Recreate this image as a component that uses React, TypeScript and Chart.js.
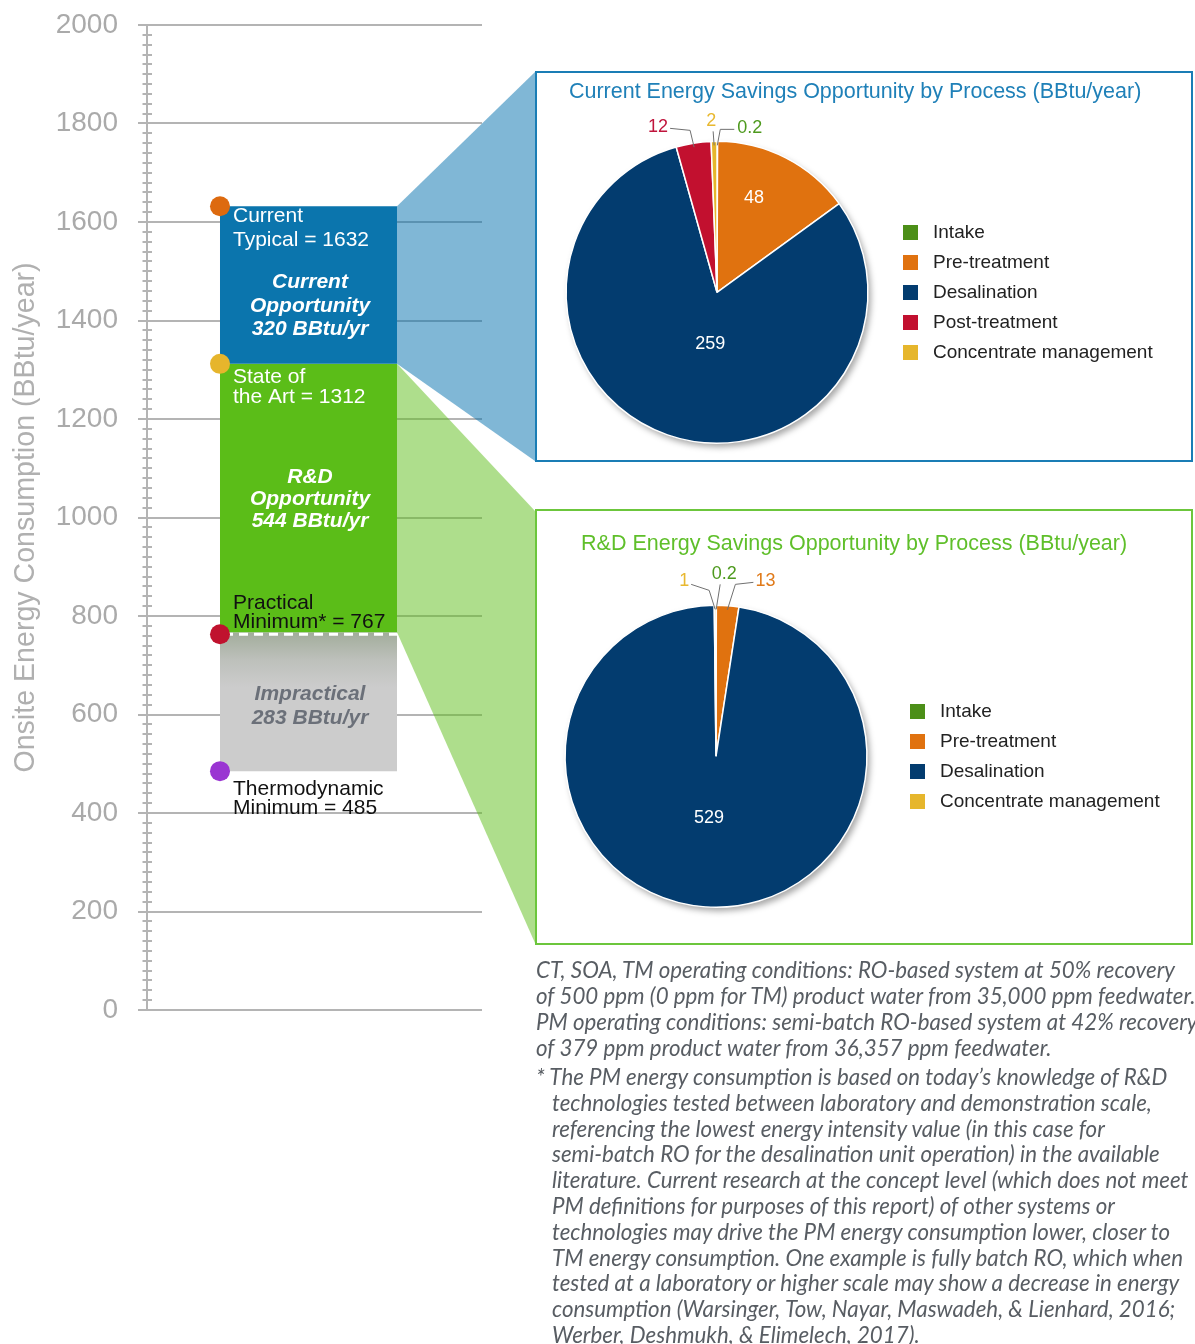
import React, { useEffect, useLayoutEffect, useRef, useState } from 'react';
import { Chart, registerables } from 'chart.js';

Chart.register(...registerables);

// ---------------- data ----------------
const levelNames = ['Current Typical', 'State of the Art', 'Practical Minimum*', 'Thermodynamic Minimum'];
const levelValues = [1632, 1312, 767, 485];
const bandNames = ['Current Opportunity', 'R&D Opportunity', 'Impractical'];
const bandSavings = [320, 544, 283];
const yMin = 0;
const yMax = 2000;
const yStep = 200;
const yMinorStep = 20;

const currentProcesses = ['Intake', 'Pre-treatment', 'Desalination', 'Post-treatment', 'Concentrate management'];
const currentSavings = [0.2, 48, 259, 12, 2];
const rdProcesses = ['Intake', 'Pre-treatment', 'Desalination', 'Concentrate management'];
const rdSavings = [0.2, 13, 529, 1];

const footnoteP1 = [
  'CT, SOA, TM operating conditions: RO-based system at 50% recovery',
  'of 500 ppm (0 ppm for TM) product water from 35,000 ppm feedwater.',
  'PM operating conditions: semi-batch RO-based system at 42% recovery',
  'of 379 ppm product water from 36,357 ppm feedwater.',
];
const footnoteP2 = [
  '* The PM energy consumption is based on today\u2019s knowledge of R&D',
  'technologies tested between laboratory and demonstration scale,',
  'referencing the lowest energy intensity value (in this case for',
  'semi-batch RO for the desalination unit operation) in the available',
  'literature. Current research at the concept level (which does not meet',
  'PM definitions for purposes of this report) of other systems or',
  'technologies may drive the PM energy consumption lower, closer to',
  'TM energy consumption. One example is fully batch RO, which when',
  'tested at a laboratory or higher scale may show a decrease in energy',
  'consumption (Warsinger, Tow, Nayar, Maswadeh, & Lienhard, 2016;',
  'Werber, Deshmukh, & Elimelech, 2017).',
];

// ---------------- styles ----------------
const FONT = "'Liberation Sans', Arial, Helvetica, sans-serif";
const GRID = '#b4b4b4';
const bandColors = ['#0b75ad', '#5bbd18', '#cccccc'];
const dotColors = ['#dd6a0f', '#e6b52c', '#c0122e', '#9a35d2'];
const processColor: Record<string, string> = {
  'Intake': '#4c8f18',
  'Pre-treatment': '#e0720f',
  'Desalination': '#033c6f',
  'Post-treatment': '#c2102f',
  'Concentrate management': '#e6b62c',
};
const processTextColor: Record<string, string> = {
  'Intake': '#4e9a1e',
  'Pre-treatment': '#e07a1a',
  'Desalination': '#ffffff',
  'Post-treatment': '#c0143c',
  'Concentrate management': '#e8b830',
};

const BOX1 = { left: 535, top: 71, width: 658, height: 391, color: '#1a7db5' };
const BOX2 = { left: 535, top: 509, width: 658, height: 436, color: '#6cc63c' };

// ---------------- main chart plugins ----------------
const trapezoidPlugin = {
  id: 'trapezoids',
  beforeDatasetsDraw(chart: any) {
    const bar = chart.getDatasetMeta(0).data[0];
    if (!bar) return;
    const right = bar.x + bar.width / 2;
    const y = chart.scales.y;
    const ctx = chart.ctx;
    ctx.save();
    ctx.fillStyle = 'rgba(1,111,173,0.5)';
    ctx.beginPath();
    ctx.moveTo(right, y.getPixelForValue(levelValues[0]));
    ctx.lineTo(BOX1.left, BOX1.top + 1);
    ctx.lineTo(BOX1.left, BOX1.top + BOX1.height - 1);
    ctx.lineTo(right, y.getPixelForValue(levelValues[1]));
    ctx.closePath();
    ctx.fill();
    ctx.fillStyle = 'rgba(93,189,25,0.5)';
    ctx.beginPath();
    ctx.moveTo(right, y.getPixelForValue(levelValues[1]));
    ctx.lineTo(BOX2.left, BOX2.top + 2);
    ctx.lineTo(BOX2.left, BOX2.top + BOX2.height - 2);
    ctx.lineTo(right, y.getPixelForValue(levelValues[2]));
    ctx.closePath();
    ctx.fill();
    ctx.restore();
  },
};

const levelTextLines = [
  ['Current', `Typical = ${levelValues[0]}`],
  ['State of', `the Art = ${levelValues[1]}`],
  ['Practical', `Minimum* = ${levelValues[2]}`],
  ['Thermodynamic', `Minimum = ${levelValues[3]}`],
];
const levelTextOffsets = [[10, 34], [13, 33], [-29, -10], [18, 37]];
const levelTextColors = ['#ffffff', '#ffffff', '#111111', '#111111'];
const bandTextLines = [
  ['Current', 'Opportunity', `${bandSavings[0]} BBtu/yr`],
  ['R&D', 'Opportunity', `${bandSavings[1]} BBtu/yr`],
  ['Impractical', `${bandSavings[2]} BBtu/yr`],
];
const bandTextOffsets = [[76, 100, 123], [113, 135, 157], [62, 86]];
const bandTextColors = ['#ffffff', '#ffffff', '#6b7079'];

const overlayPlugin = {
  id: 'overlay',
  afterDatasetsDraw(chart: any) {
    const bar = chart.getDatasetMeta(0).data[0];
    if (!bar) return;
    const left = bar.x - bar.width / 2;
    const right = bar.x + bar.width / 2;
    const y = chart.scales.y;
    const ctx = chart.ctx;
    ctx.save();

    // minor ticks on the axis
    ctx.strokeStyle = GRID;
    ctx.lineWidth = 2;
    const axisX = chart.chartArea.left;
    for (let v = yMin; v <= yMax; v += yMinorStep) {
      if (v % yStep === 0) continue;
      const py = Math.round(y.getPixelForValue(v));
      ctx.beginPath();
      ctx.moveTo(axisX - 4.5, py);
      ctx.lineTo(axisX + 5, py);
      ctx.stroke();
    }

    // dashed line at practical minimum
    const pm = y.getPixelForValue(levelValues[2]) + 2;
    ctx.strokeStyle = '#ffffff';
    ctx.lineWidth = 3;
    ctx.setLineDash([9, 6]);
    ctx.beginPath();
    ctx.moveTo(left + 4, pm);
    ctx.lineTo(right, pm);
    ctx.stroke();
    ctx.setLineDash([]);

    // level dots
    levelValues.forEach((v, i) => {
      ctx.fillStyle = dotColors[i];
      ctx.beginPath();
      ctx.arc(left, y.getPixelForValue(v) + (i === 2 ? 2 : 0), 10, 0, Math.PI * 2);
      ctx.fill();
    });

    // level texts
    ctx.textBaseline = 'middle';
    ctx.textAlign = 'left';
    ctx.font = `21px ${FONT}`;
    levelTextLines.forEach((lines, i) => {
      const py = y.getPixelForValue(levelValues[i]);
      ctx.fillStyle = levelTextColors[i];
      lines.forEach((t, j) => ctx.fillText(t, left + 13, py + levelTextOffsets[i][j]));
    });

    // band texts
    ctx.textAlign = 'center';
    ctx.font = `italic bold 21px ${FONT}`;
    bandTextLines.forEach((lines, i) => {
      const py = y.getPixelForValue(levelValues[i]);
      ctx.fillStyle = bandTextColors[i];
      lines.forEach((t, j) => ctx.fillText(t, bar.x + 1.5, py + bandTextOffsets[i][j]));
    });
    ctx.restore();
  },
};

function MainChart() {
  const ref = useRef<HTMLCanvasElement>(null);
  useEffect(() => {
    const impracticalFill = (c: any) => {
      const chart = c.chart;
      if (!chart.chartArea) return bandColors[2];
      const top = chart.scales.y.getPixelForValue(levelValues[2]);
      const g = chart.ctx.createLinearGradient(0, top, 0, top + 55);
      g.addColorStop(0, '#a2ad9b');
      g.addColorStop(0.5, '#bdc0bb');
      g.addColorStop(1, bandColors[2]);
      return g;
    };
    const chart = new Chart(ref.current as HTMLCanvasElement, {
      type: 'bar',
      data: {
        labels: ['Onsite energy consumption'],
        datasets: bandNames.map((name, i) => ({
          label: name,
          data: [[levelValues[i + 1], levelValues[i]]] as any,
          backgroundColor: i === 2 ? impracticalFill : bandColors[i],
          borderWidth: 0,
          grouped: false,
          barPercentage: 0.548,
          categoryPercentage: 1,
        })),
      },
      options: {
        responsive: false,
        animation: false,
        layout: { padding: { left: 0, right: 1195 - 482, top: 25, bottom: 1344 - 1010 } },
        plugins: { legend: { display: false }, tooltip: { enabled: false }, title: { display: false } },
        scales: {
          x: { display: false },
          y: {
            position: 'left',
            min: yMin,
            max: yMax,
            ticks: {
              stepSize: yStep,
              color: '#aaaaaa',
              font: { size: 28, family: FONT },
              padding: 20,
              callback: (v: any) => String(v),
            },
            grid: { color: GRID, lineWidth: 2, tickLength: 9, drawTicks: true },
            border: { display: true, color: GRID, width: 2 },
            title: {
              display: true,
              text: 'Onsite Energy Consumption (BBtu/year)',
              color: '#b0b0b0',
              font: { size: 28.6, family: FONT },
              padding: { top: 8.5, bottom: 0 },
            },
            afterFit: (s: any) => {
              s.width = 147;
              s.paddingTop = 0;
              s.paddingBottom = 0;
            },
          },
          y2: {
            position: 'right',
            min: yMin,
            max: yMax,
            ticks: { stepSize: yStep, display: false },
            grid: { color: GRID, lineWidth: 2, tickLength: 12, drawTicks: true, drawOnChartArea: false },
            border: { display: false },
            afterFit: (s: any) => {
              s.width = 12;
              s.paddingTop = 0;
              s.paddingBottom = 0;
            },
          },
        },
      } as any,
      plugins: [trapezoidPlugin, overlayPlugin],
    });
    return () => chart.destroy();
  }, []);
  return (
    <canvas
      ref={ref}
      width={1195}
      height={1344}
      style={{ position: 'absolute', left: 0, top: 0, width: 1195, height: 1344 }}
    />
  );
}

// ---------------- pie charts ----------------
const pieShadowPlugin = {
  id: 'pieShadow',
  beforeDatasetsDraw(chart: any) {
    const arc = chart.getDatasetMeta(0).data[0];
    if (!arc) return;
    const ctx = chart.ctx;
    ctx.save();
    ctx.shadowColor = 'rgba(0,0,0,0.35)';
    ctx.shadowBlur = 6;
    ctx.shadowOffsetX = 3;
    ctx.shadowOffsetY = 4;
    ctx.fillStyle = '#ffffff';
    ctx.beginPath();
    ctx.arc(arc.x, arc.y, arc.outerRadius, 0, Math.PI * 2);
    ctx.fill();
    ctx.restore();
  },
};

const pieLabelPlugin = {
  id: 'pieLabels',
  afterDatasetsDraw(chart: any, _args: any, opts: any) {
    const ctx = chart.ctx;
    const meta = chart.getDatasetMeta(0);
    const values = chart.data.datasets[0].data as number[];
    const labels = chart.data.labels as string[];
    ctx.save();
    ctx.font = `18px ${FONT}`;
    ctx.textBaseline = 'middle';
    (opts.inside || []).forEach((cfg: any) => {
      const arc = meta.data[cfg.index];
      const mid = (arc.startAngle + arc.endAngle) / 2;
      const r = arc.outerRadius * cfg.rf;
      ctx.fillStyle = '#ffffff';
      ctx.textAlign = 'center';
      ctx.fillText(String(values[cfg.index]), arc.x + Math.cos(mid) * r + cfg.dx, arc.y + Math.sin(mid) * r + cfg.dy);
    });
    (opts.callouts || []).forEach((cfg: any) => {
      const arc = meta.data[cfg.index];
      const mid = (arc.startAngle + arc.endAngle) / 2;
      const rr = arc.outerRadius - 4;
      const px = arc.x + Math.cos(mid) * rr;
      const py = arc.y + Math.sin(mid) * rr;
      const top = arc.y - arc.outerRadius;
      const ex = px + cfg.ex;
      const ey = top + cfg.ey;
      const hx = ex + cfg.hx;
      const hy = ey + cfg.hy;
      ctx.strokeStyle = '#707070';
      ctx.lineWidth = 1;
      ctx.beginPath();
      ctx.moveTo(px, py);
      ctx.lineTo(ex, ey);
      ctx.lineTo(hx, hy);
      ctx.stroke();
      ctx.fillStyle = processTextColor[labels[cfg.index]];
      ctx.textAlign = cfg.align;
      ctx.fillText(String(values[cfg.index]), hx + cfg.tx, hy + cfg.ty);
    });
    ctx.restore();
  },
};

function makeSwatch(color: string) {
  const c = document.createElement('canvas');
  c.width = 15;
  c.height = 15;
  const g = c.getContext('2d') as CanvasRenderingContext2D;
  g.fillStyle = color;
  g.fillRect(0, 0, 15, 15);
  return c;
}

type PieProps = {
  labels: string[];
  values: number[];
  title: string;
  titleColor: string;
  width: number;
  height: number;
  titlePadding: { top: number; bottom: number };
  layoutPadding: { left: number; right: number; top: number; bottom: number };
  inside: any[];
  callouts: any[];
};

function PieChart(p: PieProps) {
  const ref = useRef<HTMLCanvasElement>(null);
  useEffect(() => {
    const colors = p.labels.map((l) => processColor[l]);
    const chart = new Chart(ref.current as HTMLCanvasElement, {
      type: 'pie',
      data: {
        labels: p.labels,
        datasets: [{ data: p.values, backgroundColor: colors, borderColor: '#ffffff', borderWidth: 1.5 }],
      },
      options: {
        responsive: false,
        animation: false,
        layout: { padding: p.layoutPadding },
        plugins: {
          tooltip: { enabled: false },
          title: {
            display: true,
            text: p.title,
            color: p.titleColor,
            font: { size: 21.5, family: FONT, weight: 'normal' },
            padding: p.titlePadding,
          },
          legend: {
            position: 'right',
            align: 'center',
            fullSize: false,
            labels: {
              usePointStyle: true,
              pointStyleWidth: 26,
              boxHeight: 15,
              padding: 11,
              color: '#222222',
              font: { size: 19, family: FONT },
              generateLabels: (ch: any) =>
                (ch.data.labels as string[]).map((label, i) => ({
                  text: label,
                  fillStyle: colors[i],
                  strokeStyle: colors[i],
                  lineWidth: 0,
                  pointStyle: makeSwatch(colors[i]),
                  hidden: false,
                  index: i,
                  fontColor: '#222222',
                })),
            },
          },
          pieLabels: { inside: p.inside, callouts: p.callouts },
        },
      } as any,
      plugins: [pieShadowPlugin, pieLabelPlugin],
    });
    return () => chart.destroy();
  }, []);
  return <canvas ref={ref} width={p.width} height={p.height} style={{ display: 'block', width: p.width, height: p.height }} />;
}

function Box(props: { box: any; children: any }) {
  const b = props.box;
  return (
    <div
      style={{
        position: 'absolute',
        left: b.left,
        top: b.top,
        width: b.width,
        height: b.height,
        border: `2px solid ${b.color}`,
        boxSizing: 'border-box',
        background: '#ffffff',
      }}
    >
      {props.children}
    </div>
  );
}

const FOOT_FONT = "Lato, 'Open Sans', sans-serif";
const FOOT_WIDEST_LINE_WIDTH = 659;

function Footnote() {
  const widestRef = useRef<HTMLSpanElement>(null);
  const [sx, setSx] = useState(1);
  useLayoutEffect(() => {
    const measure = () => {
      const el = widestRef.current;
      if (!el) return;
      const w = el.offsetWidth; // layout width, unaffected by transforms
      if (w > 0) setSx(FOOT_WIDEST_LINE_WIDTH / w);
    };
    measure();
    if ((document as any).fonts && (document as any).fonts.ready) {
      (document as any).fonts.ready.then(measure);
    }
  }, []);
  return (
    <div
      style={{
        position: 'absolute',
        left: 536,
        top: 956,
        fontFamily: FOOT_FONT,
        fontStyle: 'italic',
        fontSize: 24,
        color: '#585d63',
        whiteSpace: 'nowrap',
        transformOrigin: '0 0',
        transform: `scaleX(${sx})`,
      }}
    >
      <div style={{ lineHeight: '26px' }}>
        {footnoteP1.map((t, i) => (
          <div key={i}>
            {i === 1 ? <span ref={widestRef} style={{ display: 'inline-block' }}>{t}</span> : t}
          </div>
        ))}
      </div>
      <div style={{ lineHeight: '25.8px', marginTop: 3 }}>
        {footnoteP2.map((t, i) => (
          <div key={i} style={{ paddingLeft: i === 0 ? 0 : 16 / sx }}>
            {t}
          </div>
        ))}
      </div>
    </div>
  );
}

export default function App() {
  return (
    <div
      style={{
        position: 'absolute',
        left: 0,
        top: 0,
        width: 1195,
        height: 1344,
        overflow: 'hidden',
        background: '#ffffff',
      }}
    >
      <MainChart />
      <Box box={BOX1}>
        <PieChart
          labels={currentProcesses}
          values={currentSavings}
          title="Current Energy Savings Opportunity by Process (BBtu/year)"
          titleColor="#1f80b8"
          width={BOX1.width - 4}
          height={BOX1.height - 4}
          titlePadding={{ top: 6, bottom: 35.8 }}
          layoutPadding={{ left: 10.5, right: 28.3, top: 0, bottom: 16 }}
          inside={[
            { index: 1, rf: 0.67, dx: -9, dy: -4 },
            { index: 2, rf: 0.35, dx: 10.5, dy: 2 },
          ]}
          callouts={[
            { index: 3, ex: -4, ey: -11, hx: -20, hy: -2, align: 'right', tx: -2, ty: -1 },
            { index: 4, ex: -1, ey: -10, hx: 0, hy: 0, align: 'center', tx: -2, ty: -10 },
            { index: 0, ex: 3, ey: -12, hx: 14, hy: 0, align: 'left', tx: 3, ty: -1 },
          ]}
        />
      </Box>
      <Box box={BOX2}>
        <PieChart
          labels={rdProcesses}
          values={rdSavings}
          title="R&D Energy Savings Opportunity by Process (BBtu/year)"
          titleColor="#5fbf2a"
          width={BOX2.width - 4}
          height={BOX2.height - 4}
          titlePadding={{ top: 20.4, bottom: 47.4 }}
          layoutPadding={{ left: 1.5, right: 21.3, top: 0, bottom: 35 }}
          inside={[{ index: 2, rf: 0.41, dx: -2.6, dy: 0 }]}
          callouts={[
            { index: 3, ex: -6, ey: -15, hx: -18, hy: -6, align: 'right', tx: -2, ty: -3 },
            { index: 0, ex: 4, ey: -21, hx: 0, hy: 0, align: 'center', tx: 4, ty: -10 },
            { index: 1, ex: 8, ey: -21, hx: 18, hy: -2, align: 'left', tx: 2, ty: -1 },
          ]}
        />
      </Box>
      <Footnote />
    </div>
  );
}
